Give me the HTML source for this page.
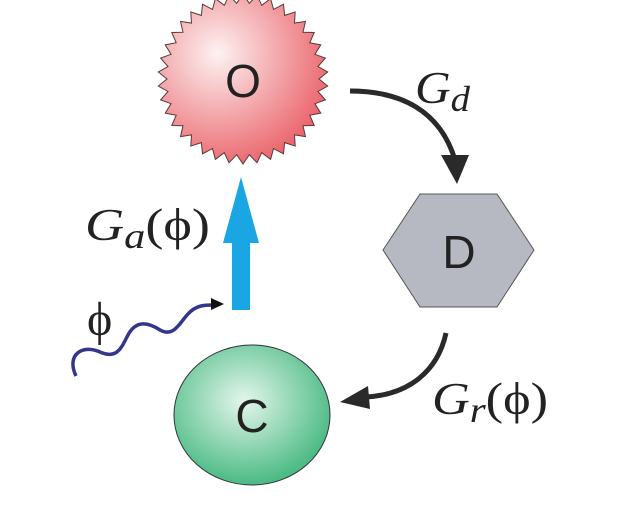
<!DOCTYPE html>
<html><head><style>body{margin:0;background:#fff}svg{display:block}</style></head><body>
<svg width="630" height="512" viewBox="0 0 630 512" xmlns="http://www.w3.org/2000/svg">
<defs>
<radialGradient id="rg" cx="0.35" cy="0.35" r="0.7"><stop offset="0" stop-color="#fdf2f2"/><stop offset="1" stop-color="#ea636a"/></radialGradient>
<radialGradient id="gg" cx="0.45" cy="0.4" r="0.65"><stop offset="0" stop-color="#e4f6ec"/><stop offset="1" stop-color="#3db57a"/></radialGradient>
</defs>
<polygon id="star" fill="url(#rg)" stroke="#5a3a3a" stroke-width="1" points=""/>
<script>
(function(){var p=[],n=38,cx=243,cy=79,R=85,r=76;for(var i=0;i<2*n;i++){var a=i*Math.PI/n-Math.PI/2,rr=i%2?r:R;p.push((cx+rr*Math.cos(a)).toFixed(1)+","+(cy+rr*Math.sin(a)).toFixed(1));}document.getElementById("star").setAttribute("points",p.join(" "));})();
</script>
<text x="243" y="97" font-family="Liberation Sans,sans-serif" font-size="46" text-anchor="middle" fill="#222">O</text>
<polygon points="420,194 497,194 534,250 497,307 420,307 383,250" fill="#b7b9c2" stroke="#555" stroke-width="1"/>
<text x="459" y="268" font-family="Liberation Sans,sans-serif" font-size="46" text-anchor="middle" fill="#222">D</text>
<ellipse cx="252" cy="415" rx="78" ry="70" fill="url(#gg)" stroke="#333" stroke-width="1"/>
<text x="252" y="432" font-family="Liberation Sans,sans-serif" font-size="46" text-anchor="middle" fill="#222">C</text>
<path d="M350,91 C400,91 440,110 455,160" fill="none" stroke="#2a2a2a" stroke-width="5"/>
<polygon points="441,155 469,155 457,184" fill="#2a2a2a"/>
<path d="M446,333 C438,370 410,395 365,397" fill="none" stroke="#2a2a2a" stroke-width="5"/>
<polygon points="368,386 370,409 340,402" fill="#2a2a2a"/>
<polygon points="232,310 250,310 250,243 259,243 241,177 223,243 232,243" fill="#1aa6e2"/>
<path d="M76,376 C66,355 82,344 100,352 C118,360 122,346 128,335 C136,320 148,322 160,330 C174,338 180,322 188,314 C196,305 205,305 213,305" fill="none" stroke="#33368a" stroke-width="3.5"/>
<polygon points="211,298 224,304 211,310" fill="#111"/>
<g font-family="Liberation Serif,serif" fill="#222">
<text x="415" y="103" font-size="46" font-style="italic" textLength="55" lengthAdjust="spacingAndGlyphs">G<tspan font-size="36" dy="8">d</tspan></text>
<text x="85" y="240" font-size="46" textLength="125" lengthAdjust="spacingAndGlyphs"><tspan font-style="italic">G</tspan><tspan font-style="italic" font-size="36" dy="8">a</tspan><tspan dy="-8">(ϕ)</tspan></text>
<text x="87" y="335" font-size="48">ϕ</text>
<text x="432" y="414" font-size="46" textLength="116" lengthAdjust="spacingAndGlyphs"><tspan font-style="italic">G</tspan><tspan font-style="italic" font-size="36" dy="8">r</tspan><tspan dy="-8">(ϕ)</tspan></text>
</g>
</svg>
</body></html>
